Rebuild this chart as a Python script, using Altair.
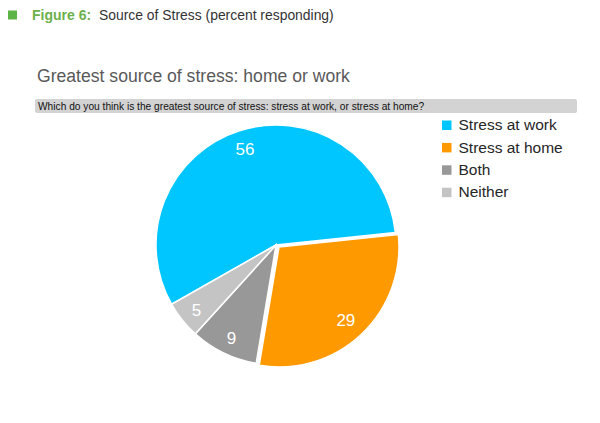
import altair as alt
import pandas as pd

# ---- data ----
categories = ["Stress at work", "Stress at home", "Both", "Neither"]
values = [56, 29, 9, 5]
colors = ["#00c6ff", "#ff9900", "#989898", "#c4c4c4"]

fig_label = "Figure 6:"
fig_title = "Source of Stress (percent responding)"
chart_title = "Greatest source of stress: home or work"
question = "Which do you think is the greatest source of stress: stress at work, or stress at home?"

FONT = "Liberation Sans"
W, H = 584, 407
CX, CY, R = 268, 235, 120

pie_df = pd.DataFrame({"category": categories, "value": values, "idx": list(range(len(categories)))})

theta = alt.Theta("value:Q", stack=True, scale=alt.Scale(range=[-2.087, 4.196]))
order = alt.Order("idx:O")
color = alt.Color(
    "category:N",
    scale=alt.Scale(domain=categories, range=colors),
    legend=alt.Legend(
        orient="none", legendX=431, legendY=107.5, title=None,
        symbolType="square", symbolSize=90, symbolStrokeWidth=0, symbolOpacity=1,
        labelFontSize=15.5, labelFont=FONT, labelColor="#262626",
        rowPadding=5.4, labelOffset=4, padding=0,
    ),
)

is_home = alt.datum.category == categories[1]

base_pie = alt.Chart(pie_df).mark_arc(outerRadius=R, stroke="white", strokeWidth=1.5).encode(
    theta=theta, order=order, color=color,
    x=alt.value(CX), y=alt.value(CY),
    opacity=alt.condition(is_home, alt.value(0), alt.value(1)),
)

home_pie = alt.Chart(pie_df).mark_arc(outerRadius=R, stroke="white", strokeWidth=1.5).encode(
    theta=theta, order=order, color=color,
    x=alt.value(CX + 3), y=alt.value(CY + 2),
    opacity=alt.condition(is_home, alt.value(1), alt.value(0)),
)

labels = alt.Chart(pie_df).mark_text(radius=102, fontSize=17, font=FONT, color="white").encode(
    theta=theta, order=order, text="value:Q",
    x=alt.value(CX), y=alt.value(CY + 2),
)

# ---- header elements ----
square = alt.Chart(pd.DataFrame({"a": [0]})).mark_rect(color="#5cb346").encode(
    x=alt.value(0), x2=alt.value(9), y=alt.value(0.5), y2=alt.value(9.5)
)
figlab = alt.Chart(pd.DataFrame({"t": [fig_label]})).mark_text(
    align="left", baseline="alphabetic", font=FONT, fontSize=14, fontWeight="bold", color="#6cb04c"
).encode(text="t:N", x=alt.value(24), y=alt.value(9.5))
figtit = alt.Chart(pd.DataFrame({"t": [fig_title]})).mark_text(
    align="left", baseline="alphabetic", font=FONT, fontSize=13.9, color="#333333"
).encode(text="t:N", x=alt.value(91), y=alt.value(9.5))

ctitle = alt.Chart(pd.DataFrame({"t": [chart_title]})).mark_text(
    align="left", baseline="alphabetic", font=FONT, fontSize=17.6, color="#595959"
).encode(text="t:N", x=alt.value(29), y=alt.value(72))

qbar = alt.Chart(pd.DataFrame({"a": [0]})).mark_rect(color="#d3d3d3", cornerRadius=2).encode(
    x=alt.value(27), x2=alt.value(569), y=alt.value(89), y2=alt.value(103)
)
qtext = alt.Chart(pd.DataFrame({"t": [question]})).mark_text(
    align="left", baseline="alphabetic", font=FONT, fontSize=10.2, color="#111111"
).encode(text="t:N", x=alt.value(30), y=alt.value(99.8))

chart = alt.layer(
    square, figlab, figtit, ctitle, qbar, qtext, base_pie, home_pie, labels
).properties(width=W, height=H, padding=0).configure_view(stroke=None)

chart.save("out.html", embed_options={"renderer": "svg", "actions": False})
